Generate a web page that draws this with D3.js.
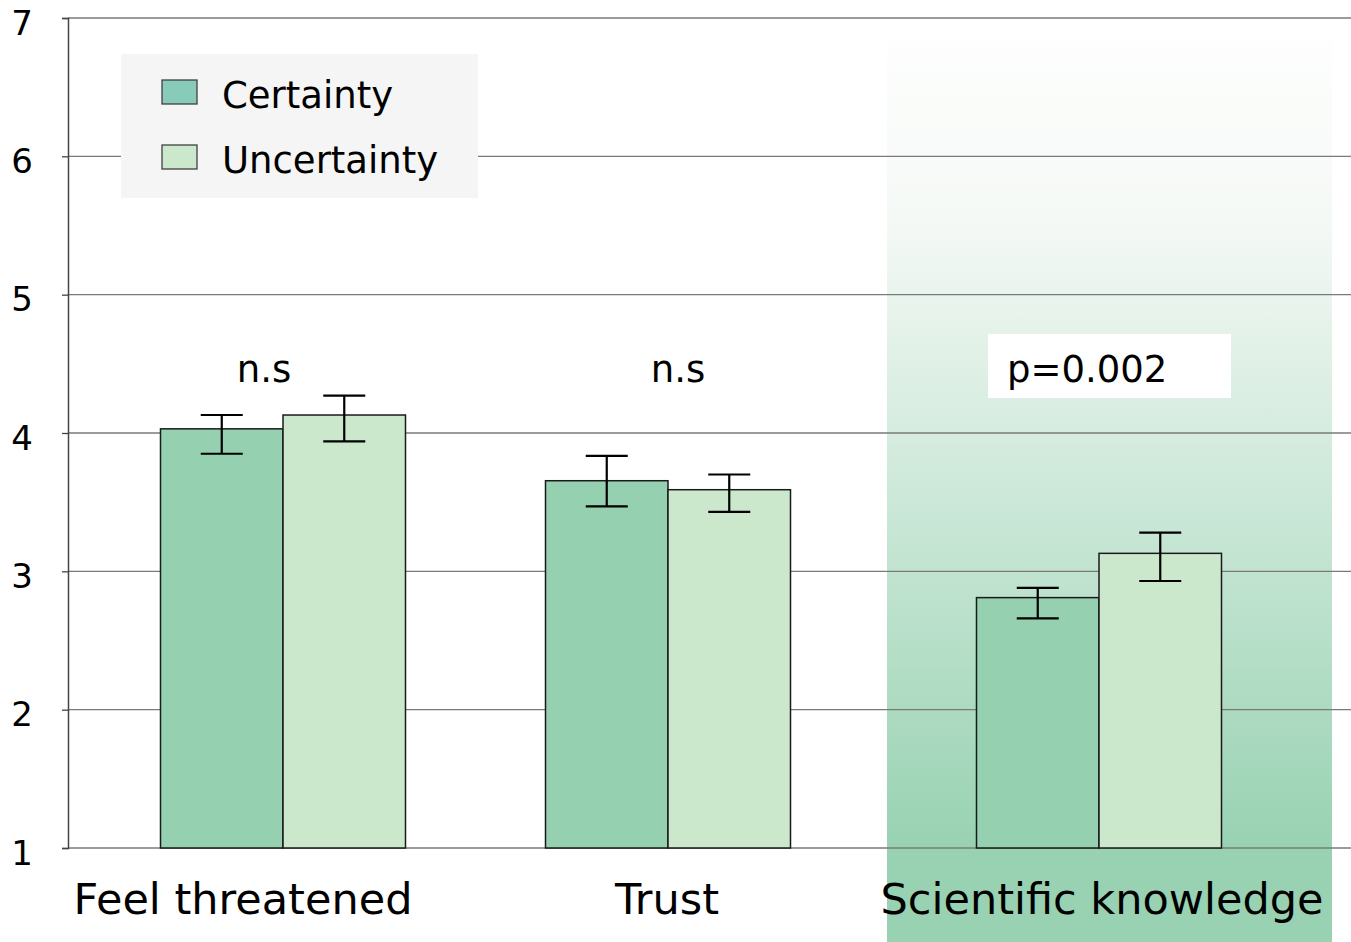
<!DOCTYPE html>
<html><head><meta charset="utf-8">
<script src="https://cdn.jsdelivr.net/npm/d3@7"></script>
<style>html,body{margin:0;padding:0;background:#fff;}svg{display:block;}text{font-family:"DejaVu Sans",Verdana,sans-serif;fill:#000;}</style>
</head><body>
<svg id="chart" width="1351" height="942"></svg>
<script>
const categories = ["Feel threatened", "Trust", "Scientific knowledge"];
const seriesNames = ["Certainty", "Uncertainty"];
const certainty = [4.03, 3.655, 2.81];
const uncertainty = [4.13, 3.59, 3.13];
const certaintyHi = [4.13, 3.835, 2.88];
const certaintyLo = [3.85, 3.47, 2.66];
const uncertaintyHi = [4.27, 3.70, 3.28];
const uncertaintyLo = [3.94, 3.43, 2.93];
const significance = ["n.s", "n.s", "p=0.002"];
const yTicks = [1, 2, 3, 4, 5, 6, 7];

(function () {
const svg = d3.select("#chart");
const W = 1351, H = 942;
const mLeft = 68, mRight = 1351, mTop = 18, mBottom = 848;

const y = d3.scaleLinear().domain([1, 7]).range([mBottom, mTop]);
const xGroup = d3.scaleOrdinal().domain(categories).range([283, 668, 1099]);
const xLabel = d3.scaleOrdinal().domain(categories).range([243, 667, 1102]);
const barW = 122.5;
const xSeries = d3.scaleBand().domain(seriesNames).range([-barW, barW]).padding(0);
const fill = d3.scaleOrdinal().domain(seriesNames).range(["#95d0b0", "#cce8cc"]);
const legendFill = d3.scaleOrdinal().domain(seriesNames).range(["#88cbb8", "#cce8cc"]);

// gradient highlight panel
const defs = svg.append("defs");
const grad = defs.append("linearGradient").attr("id", "hl")
  .attr("gradientUnits", "userSpaceOnUse").attr("x1", 0).attr("x2", 0).attr("y1", 40).attr("y2", 850);
grad.append("stop").attr("offset", 0).attr("stop-color", "#fdfefd");
grad.append("stop").attr("offset", 0.22).attr("stop-color", "#f5f9f6");
grad.append("stop").attr("offset", 1).attr("stop-color", "#98d2b2");
const hlCat = categories[2];
svg.append("rect")
  .attr("x", xGroup(hlCat) - 212).attr("width", 445)
  .attr("y", 40).attr("height", H - 40)
  .attr("fill", "url(#hl)");

// gridlines
svg.append("g").selectAll("line").data(yTicks).join("line")
  .attr("x1", mLeft).attr("x2", mRight)
  .attr("y1", d => y(d)).attr("y2", d => y(d))
  .attr("stroke", "#7a7a7a").attr("stroke-width", 1.3);

// y axis
const yAxis = svg.append("g").attr("transform", `translate(${mLeft},0)`)
  .call(d3.axisLeft(y).tickValues(yTicks).tickSize(6).tickPadding(29).tickFormat(d3.format("d")));
yAxis.select(".domain").attr("stroke", "#444").attr("stroke-width", 1.5);
yAxis.selectAll(".tick line").attr("stroke", "#444").attr("stroke-width", 1.3);
yAxis.selectAll(".tick text").attr("font-size", 34).attr("fill", "#000")
  .attr("font-family", '"DejaVu Sans",Verdana,sans-serif').attr("dy", "0.48em");

// legend
const lg = svg.append("g");
lg.append("rect").attr("x", 121).attr("y", 54).attr("width", 357).attr("height", 144).attr("fill", "#f5f5f5");
seriesNames.forEach((s, i) => {
  lg.append("rect").attr("x", 162).attr("y", 80 + i * 65).attr("width", 35).attr("height", 24)
    .attr("fill", legendFill(s)).attr("stroke", "#404040").attr("stroke-width", 1.3);
  lg.append("text").attr("x", 222).attr("y", 108 + i * 65).attr("font-size", 37).text(s);
});

// bars
const rows = [];
categories.forEach((c, i) => {
  rows.push({cat: c, s: "Certainty", v: certainty[i], hi: certaintyHi[i], lo: certaintyLo[i]});
  rows.push({cat: c, s: "Uncertainty", v: uncertainty[i], hi: uncertaintyHi[i], lo: uncertaintyLo[i]});
});
svg.append("g").selectAll("rect").data(rows).join("rect")
  .attr("x", d => xGroup(d.cat) + xSeries(d.s))
  .attr("width", xSeries.bandwidth())
  .attr("y", d => y(d.v))
  .attr("height", d => y(1) - y(d.v))
  .attr("fill", d => fill(d.s))
  .attr("stroke", "#1a1a1a").attr("stroke-width", 1.5);

// error bars
const eb = svg.append("g").attr("stroke", "#000").attr("stroke-width", 2.2);
const cx = d => xGroup(d.cat) + xSeries(d.s) + xSeries.bandwidth() / 2;
const capW = 21;
eb.selectAll(".v").data(rows).join("line").attr("class", "v")
  .attr("x1", cx).attr("x2", cx).attr("y1", d => y(d.hi)).attr("y2", d => y(d.lo));
eb.selectAll(".t").data(rows).join("line").attr("class", "t")
  .attr("x1", d => cx(d) - capW).attr("x2", d => cx(d) + capW).attr("y1", d => y(d.hi)).attr("y2", d => y(d.hi));
eb.selectAll(".b").data(rows).join("line").attr("class", "b")
  .attr("x1", d => cx(d) - capW).attr("x2", d => cx(d) + capW).attr("y1", d => y(d.lo)).attr("y2", d => y(d.lo));

// significance labels
const sigX = [264, 678, 1088];
categories.forEach((c, i) => {
  if (significance[i].startsWith("p")) {
    svg.append("rect").attr("x", 988).attr("y", 334).attr("width", 243).attr("height", 64).attr("fill", "#fff");
    svg.append("text").attr("x", 1007).attr("y", 382).attr("font-size", 37).text(significance[i]);
  } else {
    svg.append("text").attr("x", sigX[i]).attr("y", 382).attr("font-size", 37)
      .attr("text-anchor", "middle").text(significance[i]);
  }
});

// category labels
svg.append("g").selectAll("text").data(categories).join("text")
  .attr("x", d => xLabel(d)).attr("y", 914)
  .attr("text-anchor", "middle").attr("font-size", 43).text(d => d);
})();
</script>
</body></html>
